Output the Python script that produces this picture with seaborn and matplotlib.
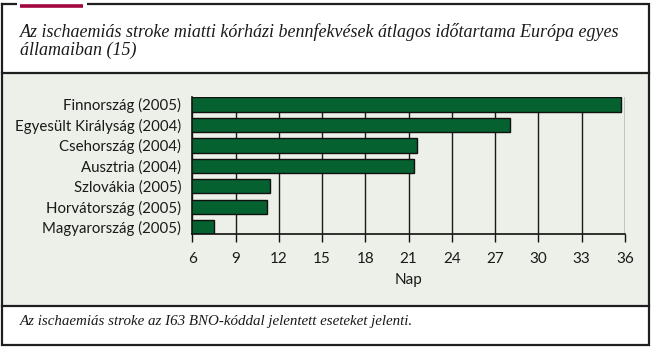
import matplotlib
matplotlib.use("Agg")
import matplotlib.pyplot as plt
import seaborn as sns
import pandas as pd
from matplotlib.patches import Rectangle

# data
countries = ["Finnország (2005)", "Egyesült Királyság (2004)", "Csehország (2004)",
             "Ausztria (2004)", "Szlovákia (2005)", "Horvátország (2005)",
             "Magyarország (2005)"]
days = [35.7, 28.0, 21.6, 21.4, 11.4, 11.2, 7.5]
x_ticks = [6, 9, 12, 15, 18, 21, 24, 27, 30, 33, 36]

title = "Az ischaemiás stroke miatti kórházi bennfekvések átlagos időtartama Európa egyes\nállamaiban (15)"
note = "Az ischaemiás stroke az I63 BNO-kóddal jelentett eseteket jelenti."

df = pd.DataFrame({"orszag": countries, "nap": days})

W, H = 665, 353
fig = plt.figure(figsize=(W / 100, H / 100), dpi=100)
fig.patch.set_facecolor("white")

# background frame in pixel coordinates
bg = fig.add_axes([0, 0, 1, 1])
bg.set_xlim(0, W)
bg.set_ylim(H, 0)
bg.axis("off")
bg.add_patch(Rectangle((2, 73), 647, 233, facecolor="#ecf0e8", edgecolor="none"))
frame = "#1e1e1e"
bg.plot([2, 2, 649, 649, 2], [4, 345, 345, 4, 4], color=frame, lw=1.6, solid_joinstyle="miter")
bg.plot([2, 649], [73, 73], color=frame, lw=1.6)
bg.plot([2, 649], [306, 306], color=frame, lw=1.6)
# the tab at the top-left corner
bg.add_patch(Rectangle((17, -2), 70, 8, facecolor="white", edgecolor="none", zorder=3))
bg.plot([20, 83], [5.5, 5.5], color="#a3063f", lw=2.6, solid_capstyle="butt", zorder=4)

bg.text(20, 41, title, fontfamily="Liberation Serif", fontstyle="italic",
        fontsize=13, va="center", ha="left", linespacing=1.05, color="#1a1a1a")
bg.text(20, 322, note, fontfamily="Liberation Serif", fontstyle="italic",
        fontsize=10.8, va="center", ha="left", color="#1a1a1a")

# chart
ax = fig.add_axes([192.3 / W, 1 - 234.3 / H, (625 - 192.3) / W, (234.3 - 97.3) / H])
ax.set_facecolor("none")
sns.barplot(data=df, x="nap", y="orszag", orient="h", color="#05612f",
            saturation=1, width=0.7, edgecolor="#111111", linewidth=1, ax=ax)
ax.set_xlim(6, 36)
ax.set_ylim(6.35, -0.35)
ax.set_xticks(x_ticks)
ax.set_xticklabels([str(t) for t in x_ticks])
ax.grid(axis="x", color="#1a1a1a", lw=1)
ax.grid(axis="y", visible=False)
ax.set_axisbelow(True)
for s in ["top", "right"]:
    ax.spines[s].set_visible(False)
for s in ["left", "bottom"]:
    ax.spines[s].set_color("#111111")
    ax.spines[s].set_linewidth(1.2)
ax.tick_params(axis="x", direction="out", length=6, width=1, color="#111111", pad=6.5,
               labelsize=11)
ax.tick_params(axis="y", length=0, pad=8, labelsize=10.8)
for lab in ax.get_xticklabels() + ax.get_yticklabels():
    lab.set_fontfamily("Lato")
    lab.set_color("#1a1a1a")
ax.set_ylabel("")
ax.set_xlabel("Nap", fontfamily="Lato", fontsize=11, color="#1a1a1a", labelpad=5)

fig.savefig("out.png", dpi=100)
